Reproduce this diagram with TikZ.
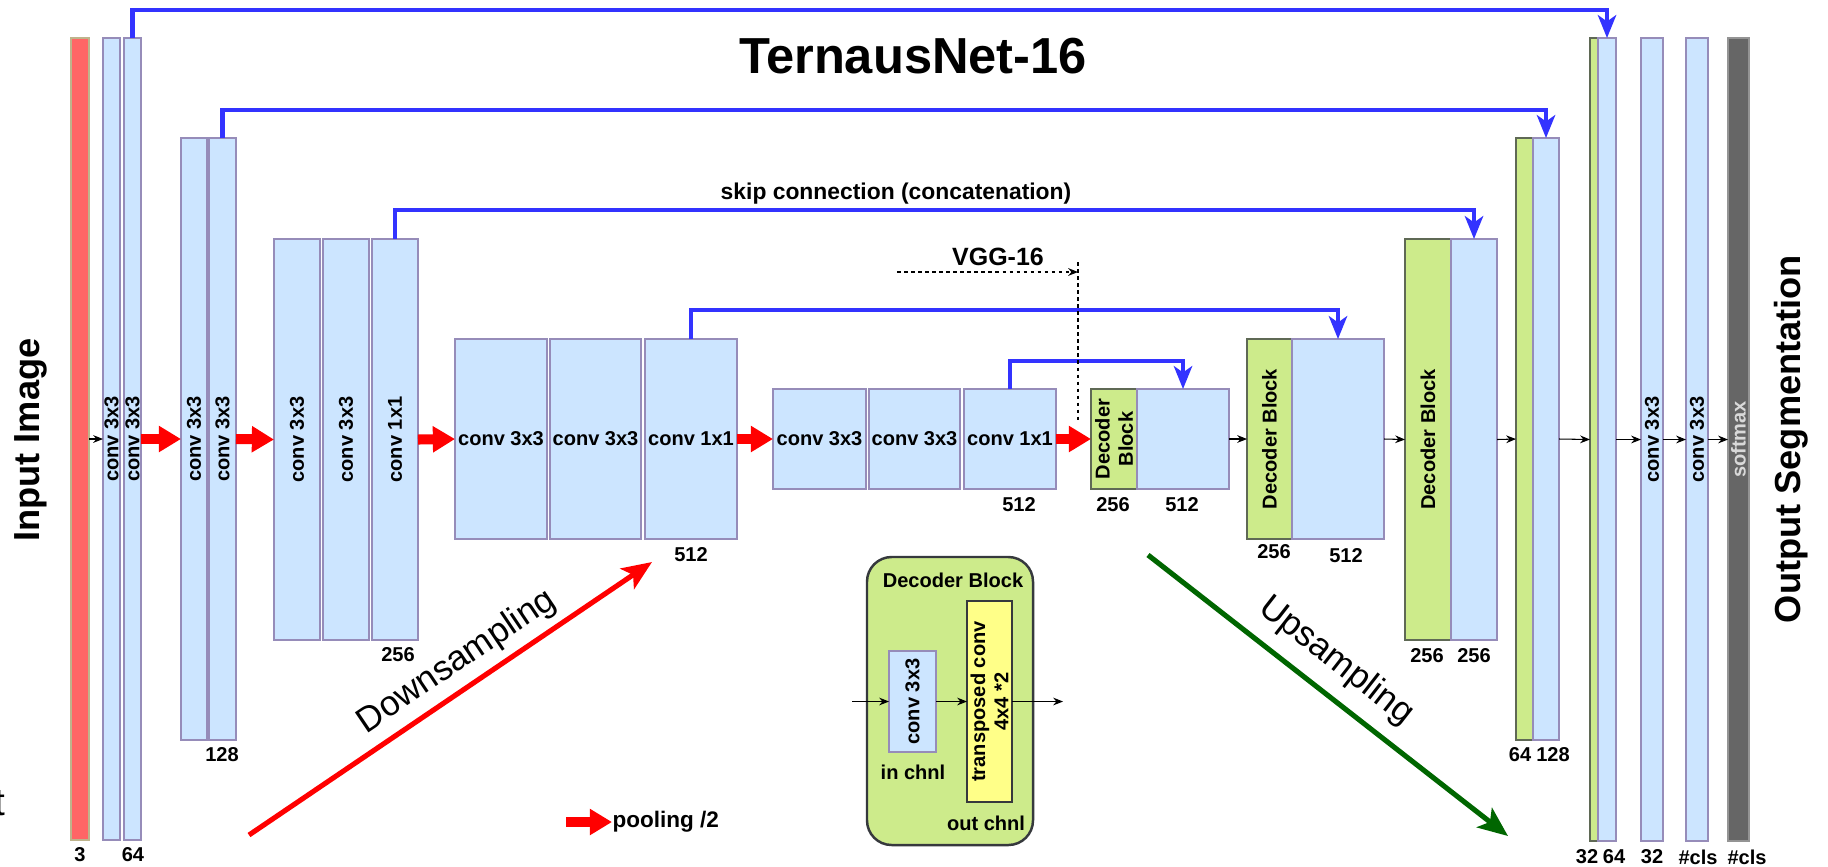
\documentclass[tikz,border=0pt]{standalone}
\usepackage{fontspec}
\setmainfont{Liberation Sans}
\usetikzlibrary{arrows.meta}

\newdimen\unitpx \unitpx=0.01cm

\definecolor{convblue}{RGB}{204,229,255}
\definecolor{convedge}{RGB}{150,140,185}
\definecolor{decgreen}{RGB}{205,235,139}
\definecolor{decedge}{RGB}{95,105,85}
\definecolor{inred}{RGB}{255,102,102}
\definecolor{inedge}{RGB}{190,180,140}
\definecolor{smgray}{RGB}{102,102,102}
\definecolor{tconvyellow}{RGB}{255,255,136}
\definecolor{darkedge}{RGB}{54,57,61}
\definecolor{skipblue}{RGB}{51,51,255}
\definecolor{poolred}{RGB}{255,0,0}
\definecolor{upgreen}{RGB}{0,102,0}

% a layer box given by its corners (x1,y1) (x2,y2), in pixel units
\newcommand\layer[6]{%
  \node[#6, minimum width={(#4-#2)*\unitpx}, minimum height={(#5-#3)*\unitpx}]
    (#1) at ({(#2+#4)/2},{(#3+#5)/2}) {};}

\newcommand\smallfs{\fontsize{5.7}{6.6}\selectfont}
\newcommand\bigfs{\fontsize{10.3}{12}\selectfont}
\newcommand\titlefs{\fontsize{14.4}{17}\selectfont}

\tikzset{
  layerbox/.style={inner sep=0pt, outer sep=0pt, line width=0.45pt},
  convbox/.style={layerbox, fill=convblue, draw=convedge},
  decbox/.style={layerbox, fill=decgreen, draw=decedge},
  inbox/.style={layerbox, fill=inred, draw=inedge},
  softbox/.style={layerbox, fill=smgray, draw=smgray!70!white},
  tconvbox/.style={layerbox, fill=tconvyellow, draw=darkedge},
  legbox/.style={layerbox, fill=decgreen, draw=darkedge, line width=0.7pt, rounded corners=7pt},
  txt/.style={inner sep=0pt, font=\bfseries\smallfs},
  vtxt/.style={txt, rotate=90, align=center},
  sidetxt/.style={inner sep=0pt, rotate=90, font=\bfseries\bigfs},
  trendtxt/.style={inner sep=0pt, font=\fontsize{10}{12}\selectfont},
  flowarrow/.style={line width=0.3pt, -{Stealth[length=2.8pt,width=2.2pt]}},
  poolarrow/.style={draw=poolred, line width=2.85pt, -{Triangle[length=6.3pt,width=7.1pt]}},
  skiparrow/.style={draw=skipblue, line width=1.15pt, -{Stealth[length=6.5pt,width=5.2pt,inset=1.8pt]}},
  trendarrow/.style={line width=1.45pt, -{Stealth[length=8.5pt,width=7pt,inset=2pt]}},
  dotline/.style={line width=0.35pt, dash pattern=on 1pt off 1pt},
}

\begin{document}
\begin{tikzpicture}[x=0.01cm, y=-0.01cm]
\useasboundingbox (0,0) rectangle (1828,866);
\fill[white] (0,0) rectangle (1828,866);

% ---------- encoder (VGG-16) ----------
\layer{in}{71}{38}{89}{840}{inbox}
\layer{e1a}{103}{38}{120}{840}{convbox}
\layer{e1b}{124}{38}{141}{840}{convbox}

\layer{e2a}{181}{138}{207}{740}{convbox}
\layer{e2b}{209}{138}{236}{740}{convbox}

\layer{e3a}{274}{239}{320}{640}{convbox}
\layer{e3b}{323}{239}{369}{640}{convbox}
\layer{e3c}{372}{239}{418}{640}{convbox}

\layer{e4a}{455}{339}{547}{539}{convbox}
\layer{e4b}{550}{339}{641}{539}{convbox}
\layer{e4c}{645}{339}{737}{539}{convbox}

\layer{e5a}{773}{389}{866}{489}{convbox}
\layer{e5b}{869}{389}{960}{489}{convbox}
\layer{e5c}{964}{389}{1056}{489}{convbox}

% ---------- decoder ----------
\layer{d1g}{1091}{389}{1137}{489}{decbox}
\layer{d1b}{1137}{389}{1229}{489}{convbox}
\layer{d2g}{1247}{339}{1292}{539}{decbox}
\layer{d2b}{1292}{339}{1384}{539}{convbox}
\layer{d3g}{1405}{239}{1451}{640}{decbox}
\layer{d3b}{1451}{239}{1497}{640}{convbox}
\layer{d4g}{1516}{138}{1533}{740}{decbox}
\layer{d4b}{1533}{138}{1559}{740}{convbox}
\layer{d5g}{1590}{38}{1598}{841}{decbox}
\layer{d5b}{1598}{38}{1616}{841}{convbox}

\layer{f1}{1641}{38}{1663}{841}{convbox}
\layer{f2}{1686}{38}{1708}{841}{convbox}
\layer{sm}{1728}{38}{1749}{841}{softbox}

% ---------- layer labels ----------
\node[vtxt] (le1a) at (e1a) {conv 3x3};
\node[vtxt] (le1b) at (e1b) {conv 3x3};
\node[vtxt] (le2a) at (e2a) {conv 3x3};
\node[vtxt] (le2b) at (e2b) {conv 3x3};
\node[vtxt] (le3a) at (e3a) {conv 3x3};
\node[vtxt] (le3b) at (e3b) {conv 3x3};
\node[vtxt] (le3c) at (e3c) {conv 1x1};
\node[txt] (le4a) at (e4a) {conv 3x3};
\node[txt] (le4b) at (e4b) {conv 3x3};
\node[txt] (le4c) at (e4c) {conv 1x1};
\node[txt] (le5a) at (e5a) {conv 3x3};
\node[txt] (le5b) at (e5b) {conv 3x3};
\node[txt] (le5c) at (e5c) {conv 1x1};
\node[vtxt] (ld1) at (d1g) {Decoder\\Block};
\node[vtxt] (ld2) at (d2g) {Decoder Block};
\node[vtxt] (ld3) at (d3g) {Decoder Block};
\node[vtxt] (lf1) at (f1) {conv 3x3};
\node[vtxt] (lf2) at (f2) {conv 3x3};
\node[vtxt, text=white!85!black] (lsm) at (sm) {softmax};

% ---------- channel counts ----------
\node[txt] (n3) at (80,855) {3};
\node[txt] (n64a) at (133,855) {64};
\node[txt] (n128) at (222,755) {128};
\node[txt] (n256a) at (398,655) {256};
\node[txt] (n512a) at (691,555) {512};
\node[txt] (n512b) at (1019,505) {512};
\node[txt] (n256b) at (1113,505) {256};
\node[txt] (n512c) at (1182,505) {512};
\node[txt] (n256c) at (1274,552) {256};
\node[txt] (n512d) at (1346,556) {512};
\node[txt] (n256d) at (1427,656) {256};
\node[txt] (n256e) at (1474,656) {256};
\node[txt] (n64b) at (1520,755) {64};
\node[txt] (n128b) at (1553,755) {128};
\node[txt] (n32a) at (1587,857) {32};
\node[txt] (n64c) at (1614,857) {64};
\node[txt] (n32b) at (1652,857) {32};
\node[txt] (ncls1) at (1698,857) {\#cls};
\node[txt] (ncls2) at (1747,857) {\#cls};

% ---------- data flow ----------
\draw[flowarrow] (in.east) -- (e1a.west);
\draw[poolarrow] (e1b.east) -- (e2a.west);
\draw[poolarrow] (e2b.east) -- (e3a.west);
\draw[poolarrow] (e3c.east) -- (e4a.west);
\draw[poolarrow] (e4c.east) -- (e5a.west);
\draw[poolarrow] (e5c.east) -- (d1g.west);
\draw[flowarrow] (d1b.east) -- (d2g.west);
\draw[flowarrow] (d2b.east) -- (d3g.west);
\draw[flowarrow] (d3b.east) -- (d4g.west);
\draw[flowarrow] (d4b.east) -- (d5g.west);
\draw[flowarrow] (d5b.east) -- (f1.west);
\draw[flowarrow] (f1.east) -- (f2.west);
\draw[flowarrow] (f2.east) -- (sm.west);

% ---------- skip connections ----------
\draw[skiparrow] (e1b.north) -- ++(0,-28) -| (d5b.north);
\draw[skiparrow] (e2b.north) -- ++(0,-28) -| (d4b.north);
\draw[skiparrow] (e3c.north) -- ++(0,-29) -| (d3b.north);
\draw[skiparrow] (e4c.north) -- ++(0,-29) -| (d2b.north);
\draw[skiparrow] (e5c.north) -- ++(0,-28) -| (d1b.north);
\node[txt, font=\bfseries\fontsize{6.5}{7.5}\selectfont] (skiplab) at (896,194) {skip connection (concatenation)};

% ---------- VGG-16 marker ----------
\node[txt, font=\bfseries\fontsize{7.1}{8.2}\selectfont] (vgg) at (998,257) {VGG-16};
\coordinate (vggL) at (897,272);
\coordinate (vggR) at (1078,272);
\coordinate (vggT) at (1078,262);
\coordinate (vggB) at (1078,421);
\draw[dotline, -{Stealth[length=2.8pt,width=2.2pt]}] (vggL) -- (vggR);
\draw[dotline] (vggT) -- (vggB);

% ---------- titles ----------
\node[inner sep=0pt, font=\bfseries\titlefs] (title) at (913,56) {TernausNet-16};
\node[sidetxt] (inlab) at (31,440) {Input Image};
\node[sidetxt] (outlab) at (1791,439) {Output Segmentation};
\node[inner sep=0pt, anchor=base east, font=\fontsize{11}{13}\selectfont] (stray) at (6,815) {t};

% ---------- down / up sampling ----------
\coordinate (dsA) at (249,835);
\coordinate (dsB) at (652,562);
\draw[trendarrow, draw=poolred] (dsA) -- (dsB);
\node[trendtxt, rotate=34] (dstxt) at (457,662) {Downsampling};
\coordinate (usA) at (1148,555);
\coordinate (usB) at (1508,836);
\draw[trendarrow, draw=upgreen] (usA) -- (usB);
\node[trendtxt, rotate=-38] (ustxt) at (1336,661) {Upsampling};

% ---------- pooling legend ----------
\coordinate (poolA) at (566,822);
\node[txt, anchor=west, font=\bfseries\fontsize{6.4}{7.4}\selectfont] (poolT) at (612,822) {pooling /2};
\draw[poolarrow] (poolA) -- (poolT.west);

% ---------- decoder block legend ----------
\layer{leg}{867}{557}{1033}{845}{legbox}
\node[txt] (legt) at (953,580) {Decoder Block};
\layer{lc}{889}{651}{936}{752}{convbox}
\node[vtxt] (llc) at (lc) {conv 3x3};
\node[txt] (lin) at (913,772) {in chnl};
\layer{ly}{967}{601}{1012}{802}{tconvbox}
\node[vtxt] (lly) at (ly) {transposed conv\\4x4 *2};
\node[txt] (lout) at (986,823) {out chnl};
\coordinate (legIn) at (852,701.5);
\coordinate (legOut) at (1063,701.5);
\draw[flowarrow] (legIn) -- (lc.west);
\draw[flowarrow] (lc.east) -- (ly.west);
\draw[flowarrow] (ly.east) -- (legOut);
\end{tikzpicture}
\end{document}
